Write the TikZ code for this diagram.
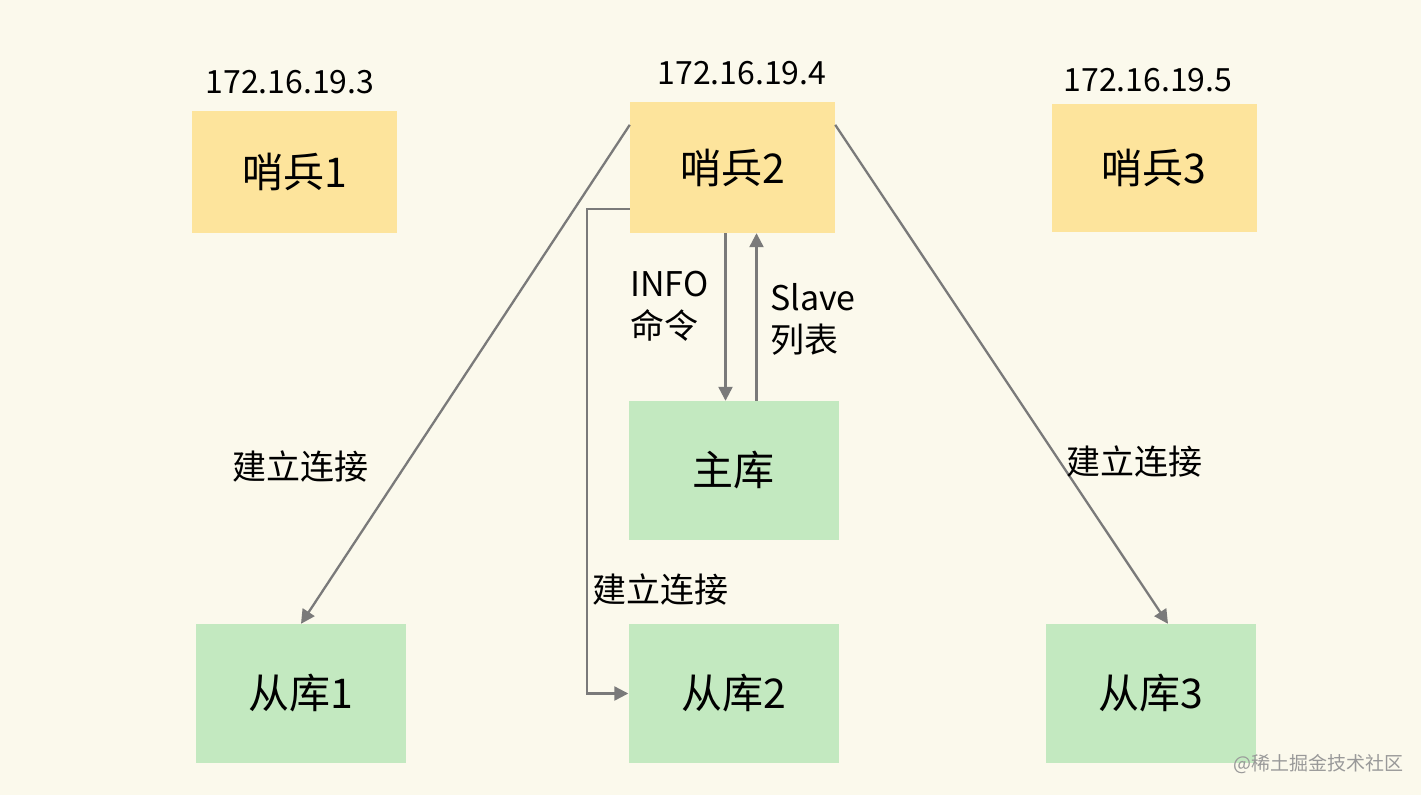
\documentclass[tikz,border=0pt]{standalone}
\usepackage{fontspec}
\setmainfont{Noto Sans CJK SC}
\usetikzlibrary{positioning,arrows.meta,calc}
\definecolor{bgcream}{HTML}{FBF9EC}
\definecolor{sentyellow}{HTML}{FDE49C}
\definecolor{dbgreen}{HTML}{C3E9C0}
\definecolor{linegray}{HTML}{7A7A7A}
\tikzset{
sentinel/.style={
  fill=sentyellow,
  minimum width=205pt,
  minimum height=122pt,
  inner sep=0pt,
  font=\fontsize{41}{46}\selectfont
},
db/.style={
  fill=dbgreen,
  minimum width=210pt,
  minimum height=139pt,
  inner sep=0pt,
  font=\fontsize{41}{46}\selectfont
},
ip/.style={font=\fontsize{32}{38}\selectfont, inner sep=0pt},
lbl/.style={font=\fontsize{34}{42}\selectfont, inner sep=0pt, align=left},
conn/.style={draw=linegray, line width=2.3pt, -{Triangle[length=14pt,width=14pt]}},
}

\begin{document}
\begin{tikzpicture}[x=1pt,y=-1pt]
            \fill[bgcream] (0,0) rectangle (1421,795);
            \useasboundingbox (0,0) rectangle (1421,795);

            % sentinels
            \node[sentinel] (s1) at (294.5,171.5) {哨兵1};
            \node[sentinel, minimum height=131pt] (s2) at (732.5,167.5) {哨兵2};
            \node[sentinel, minimum height=128pt] (s3) at (1154,168) {哨兵3};
            \node[ip] (ip1) at (290,82) {172.16.19.3};
            \node[ip] (ip2) at (742,73) {172.16.19.4};
            \node[ip] (ip3) at (1148,80) {172.16.19.5};

            % master and replicas
            \node[db] (master) at (733.5,470.5) {主库};
            \node[db] (r1) at (301,693.5) {从库1};
            \node[db] (r2) at (733.5,693.5) {从库2};
            \node[db] (r3) at (1151,693.5) {从库3};

            \draw[conn] ([xshift=-7pt]s2.south) -- ([xshift=-8pt]master.north);
            \draw[conn] ([xshift=23pt]master.north) -- ([xshift=24pt]s2.south);
            \node[lbl, anchor=north west] (info) at (630,271) {INFO\\命令};
            \node[lbl, anchor=north west] (slave) at (770,283) {Slave\\列表};

            \draw[conn] ([yshift=-23pt]s2.north west) -- (r1.north);
            \draw[conn] ([yshift=-23pt]s2.north east) -- ([xshift=17pt]r3.north);
            \coordinate (bend) at (587,209);
            \draw[conn] (s2.west |- bend) -- (bend) |- (r2.west);

            \node[lbl] (c1) at (300,467) {建立连接};
            \node[lbl] (c2) at (660,590) {建立连接};
            \node[lbl] (c3) at (1134,462) {建立连接};

            \node[font=\fontsize{19}{22}\selectfont, text=black!40, inner sep=0pt] (mark) at (1318,764) {@稀土掘金技术社区};
\end{tikzpicture}
\end{document}
